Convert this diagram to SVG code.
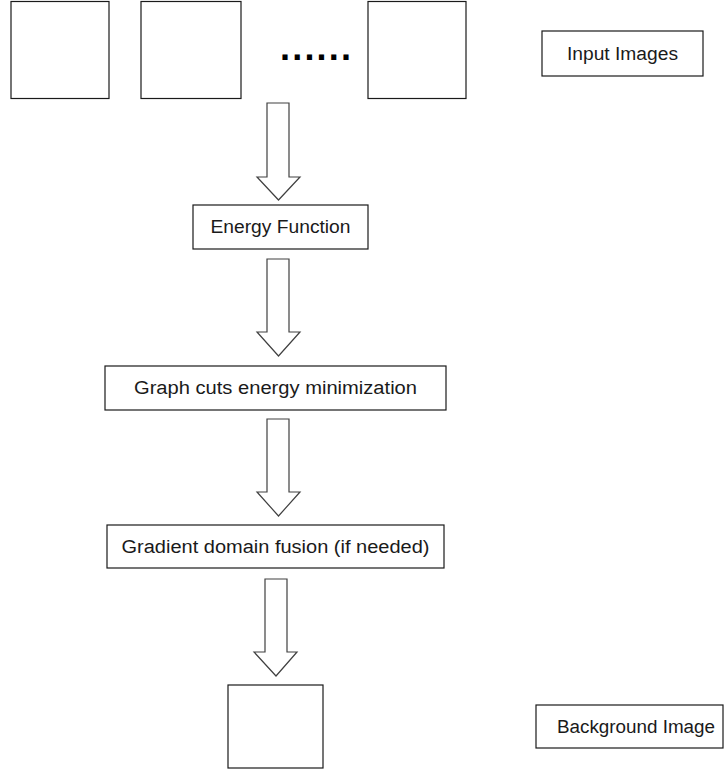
<svg xmlns="http://www.w3.org/2000/svg" width="725" height="771" viewBox="0 0 725 771">
  <style>
    .box { fill: #ffffff; stroke: #1a1a1a; stroke-width: 1.2; }
    .arrow { fill: #ffffff; stroke: #404040; stroke-width: 1.2; stroke-linejoin: miter; }
    .label { font-family: "Liberation Sans", Arial, sans-serif; font-size: 18px; fill: #1a1a1a; text-anchor: middle; }
    .dots { font-family: "Liberation Sans", Arial, sans-serif; font-size: 36px; font-weight: bold; fill: #000000; letter-spacing: 2.2px; }
  </style>
  <rect width="725" height="771" fill="#ffffff"/>

  <!-- input image placeholders -->
  <g id="input-image-1"><rect class="box" x="11" y="1.5" width="98" height="97"/></g>
  <g id="input-image-2"><rect class="box" x="141" y="1.5" width="100" height="97"/></g>
  <g id="ellipsis"><text class="dots" x="280" y="60">......</text></g>
  <g id="input-image-n"><rect class="box" x="368" y="1.5" width="98" height="97"/></g>
  <g id="input-images-label">
    <rect class="box" x="542" y="31" width="161" height="45"/>
    <text class="label" x="622.5" y="59.5" textLength="111" lengthAdjust="spacingAndGlyphs">Input Images</text>
  </g>

  <!-- processing steps -->
  <g id="energy-function">
    <rect class="box" x="193" y="205" width="175" height="44"/>
    <text class="label" x="280.5" y="232.5" textLength="140" lengthAdjust="spacingAndGlyphs">Energy Function</text>
  </g>
  <g id="graph-cuts">
    <rect class="box" x="105" y="366" width="341" height="44"/>
    <text class="label" x="275.5" y="393.5" textLength="283" lengthAdjust="spacingAndGlyphs">Graph cuts energy minimization</text>
  </g>
  <g id="gradient-fusion">
    <rect class="box" x="107" y="525" width="337" height="43"/>
    <text class="label" x="275.5" y="552.5" textLength="308" lengthAdjust="spacingAndGlyphs">Gradient domain fusion (if needed)</text>
  </g>

  <!-- output -->
  <g id="background-image"><rect class="box" x="228" y="685" width="95" height="83"/></g>
  <g id="background-image-label">
    <rect class="box" x="536" y="705" width="187" height="43"/>
    <text class="label" x="636" y="732.5" textLength="158" lengthAdjust="spacingAndGlyphs">Background Image</text>
  </g>

  <!-- block arrows between stages -->
  <g id="connectors">
    <path class="arrow" d="M267,103 H289 V177 H300 L278.5,200 L257,177 H267 Z"/>
    <path class="arrow" d="M267,259 H289 V332 H300 L278.5,356 L257,332 H267 Z"/>
    <path class="arrow" d="M267,419 H289 V492 H300 L278.5,516 L257,492 H267 Z"/>
    <path class="arrow" d="M265,579 H287 V652 H297 L276,676 L254,652 H265 Z"/>
  </g>
</svg>
